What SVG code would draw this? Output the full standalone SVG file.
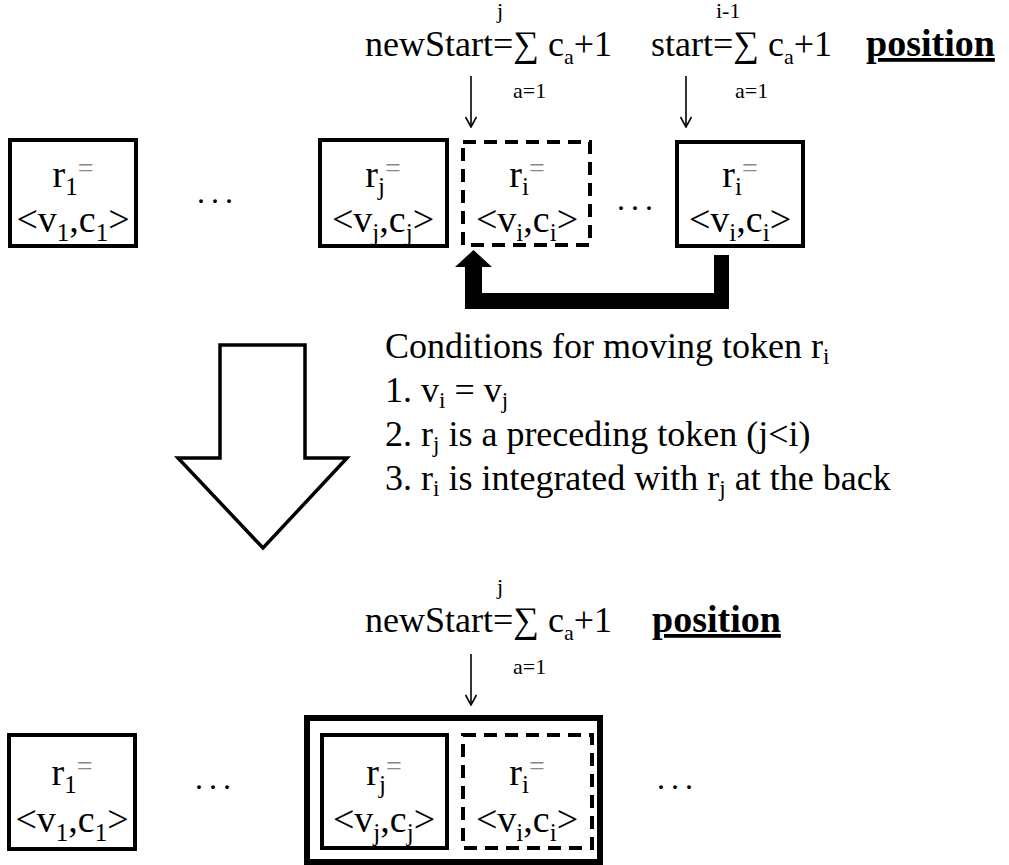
<svg xmlns="http://www.w3.org/2000/svg" width="1009" height="865" viewBox="0 0 1009 865">
<style>
text{font-family:"Liberation Serif","Times New Roman",serif;fill:#000}
.hdr{font-size:36px}
.lim{font-size:22px}
.pos{font-size:38px;font-weight:bold;text-decoration:underline}
.tok{font-size:38px}
.sub{font-size:25px}
.eq{fill:#888;font-size:28px}
.cond{font-size:36px}
.cs{font-size:23px}
.dots{font-size:32px;letter-spacing:6px}
.box{fill:#fff;stroke:#000;stroke-width:4}
.dash{fill:#fff;stroke:#000;stroke-width:4;stroke-dasharray:13 8}
.outer{fill:#fff;stroke:#000;stroke-width:6}
.thin{stroke:#000;stroke-width:1.6;fill:none}
</style>
<defs>
<marker id="ah" viewBox="0 0 12 12" refX="11" refY="6" markerWidth="12" markerHeight="12" markerUnits="userSpaceOnUse" orient="auto">
<path d="M1,0.5 L11,6 L1,11.5" fill="none" stroke="#000" stroke-width="1.6"/>
</marker>
</defs>

<g id="header-top">
<text class="hdr" x="365" y="56">newStart=∑ c<tspan class="lim" dy="8">a</tspan><tspan dy="-8">+1</tspan></text>
<text class="lim" x="497" y="18">j</text>
<text class="lim" x="513" y="98">a=1</text>
<text class="hdr" x="651" y="56">start=∑ c<tspan class="lim" dy="8">a</tspan><tspan dy="-8">+1</tspan></text>
<text class="lim" x="716" y="18">i-1</text>
<text class="lim" x="735" y="98">a=1</text>
<text class="pos" x="866" y="56">position</text>
</g>

<g id="top-r1">
<rect class="box" x="10" y="140" width="126" height="106"/>
<text class="tok" x="73" y="187" text-anchor="middle">r<tspan class="sub" dy="8">1</tspan><tspan class="eq" dy="-18">=</tspan></text>
<text class="tok" x="73" y="232" text-anchor="middle">&lt;v<tspan class="sub" dy="9">1</tspan><tspan dy="-9">,c</tspan><tspan class="sub" dy="9">1</tspan><tspan dy="-9">&gt;</tspan></text>
</g>
<text class="dots" x="197" y="203">...</text>

<g id="top-rj">
<rect class="box" x="320" y="140" width="127" height="106"/>
<text class="tok" x="383" y="187" text-anchor="middle">r<tspan class="sub" dy="8">j</tspan><tspan class="eq" dy="-18">=</tspan></text>
<text class="tok" x="383" y="232" text-anchor="middle">&lt;v<tspan class="sub" dy="9">j</tspan><tspan dy="-9">,c</tspan><tspan class="sub" dy="9">j</tspan><tspan dy="-9">&gt;</tspan></text>
</g>

<g id="top-ri-dashed">
<rect class="dash" x="463" y="142" width="127" height="103"/>
<text class="tok" x="527" y="187" text-anchor="middle">r<tspan class="sub" dy="8">i</tspan><tspan class="eq" dy="-18">=</tspan></text>
<text class="tok" x="527" y="232" text-anchor="middle">&lt;v<tspan class="sub" dy="9">i</tspan><tspan dy="-9">,c</tspan><tspan class="sub" dy="9">i</tspan><tspan dy="-9">&gt;</tspan></text>
</g>
<text class="dots" x="617" y="210">...</text>

<g id="top-ri">
<rect class="box" x="677" y="142" width="126" height="104"/>
<text class="tok" x="740" y="187" text-anchor="middle">r<tspan class="sub" dy="8">i</tspan><tspan class="eq" dy="-18">=</tspan></text>
<text class="tok" x="740" y="232" text-anchor="middle">&lt;v<tspan class="sub" dy="9">i</tspan><tspan dy="-9">,c</tspan><tspan class="sub" dy="9">i</tspan><tspan dy="-9">&gt;</tspan></text>
</g>

<g id="connectors">
<line class="thin" x1="471" y1="76" x2="471" y2="127" marker-end="url(#ah)"/>
<line class="thin" x1="686" y1="76" x2="686" y2="127" marker-end="url(#ah)"/>
<path d="M714,255 L729,255 L729,309 L465,309 L465,267 L455,267 L473.5,250 L492,267 L482,267 L482,293 L714,293 Z" fill="#000"/>
<path d="M220,345 L305,345 L305,458 L347,458 L263,548 L178,458 L220,458 Z" fill="#fff" stroke="#000" stroke-width="3.5" stroke-linejoin="miter"/>
<line class="thin" x1="471" y1="654" x2="471" y2="705" marker-end="url(#ah)"/>
</g>

<g id="conditions">
<text class="cond" x="385" y="358">Conditions for moving token r<tspan class="cs" dy="6">i</tspan></text>
<text class="cond" x="385" y="402">1. v<tspan class="cs" dy="6">i</tspan><tspan dy="-6"> = v</tspan><tspan class="cs" dy="6">j</tspan></text>
<text class="cond" x="385" y="446">2. r<tspan class="cs" dy="6">j</tspan><tspan dy="-6"> is a preceding token (j&lt;i)</tspan></text>
<text class="cond" x="385" y="490">3. r<tspan class="cs" dy="6">i</tspan><tspan dy="-6"> is integrated with r</tspan><tspan class="cs" dy="6">j</tspan><tspan dy="-6"> at the back</tspan></text>
</g>

<g id="header-bottom">
<text class="hdr" x="365" y="632">newStart=∑ c<tspan class="lim" dy="8">a</tspan><tspan dy="-8">+1</tspan></text>
<text class="lim" x="497" y="594">j</text>
<text class="lim" x="513" y="674">a=1</text>
<text class="pos" x="652" y="632">position</text>
</g>

<g id="bottom-r1">
<rect class="box" x="9" y="735" width="126" height="114"/>
<text class="tok" x="72" y="785" text-anchor="middle">r<tspan class="sub" dy="8">1</tspan><tspan class="eq" dy="-18">=</tspan></text>
<text class="tok" x="72" y="832" text-anchor="middle">&lt;v<tspan class="sub" dy="9">1</tspan><tspan dy="-9">,c</tspan><tspan class="sub" dy="9">1</tspan><tspan dy="-9">&gt;</tspan></text>
</g>
<text class="dots" x="195" y="789">...</text>

<g id="bottom-merged">
<rect class="outer" x="307" y="718" width="293" height="144"/>
<g id="bottom-rj">
<rect class="box" x="322" y="735" width="125" height="113"/>
<text class="tok" x="384" y="785" text-anchor="middle">r<tspan class="sub" dy="8">j</tspan><tspan class="eq" dy="-18">=</tspan></text>
<text class="tok" x="384" y="832" text-anchor="middle">&lt;v<tspan class="sub" dy="9">j</tspan><tspan dy="-9">,c</tspan><tspan class="sub" dy="9">j</tspan><tspan dy="-9">&gt;</tspan></text>
</g>
<g id="bottom-ri">
<rect class="dash" x="463" y="735" width="129" height="113"/>
<text class="tok" x="527" y="785" text-anchor="middle">r<tspan class="sub" dy="8">i</tspan><tspan class="eq" dy="-18">=</tspan></text>
<text class="tok" x="527" y="832" text-anchor="middle">&lt;v<tspan class="sub" dy="9">i</tspan><tspan dy="-9">,c</tspan><tspan class="sub" dy="9">i</tspan><tspan dy="-9">&gt;</tspan></text>
</g>
</g>
<text class="dots" x="657" y="789">...</text>
</svg>
